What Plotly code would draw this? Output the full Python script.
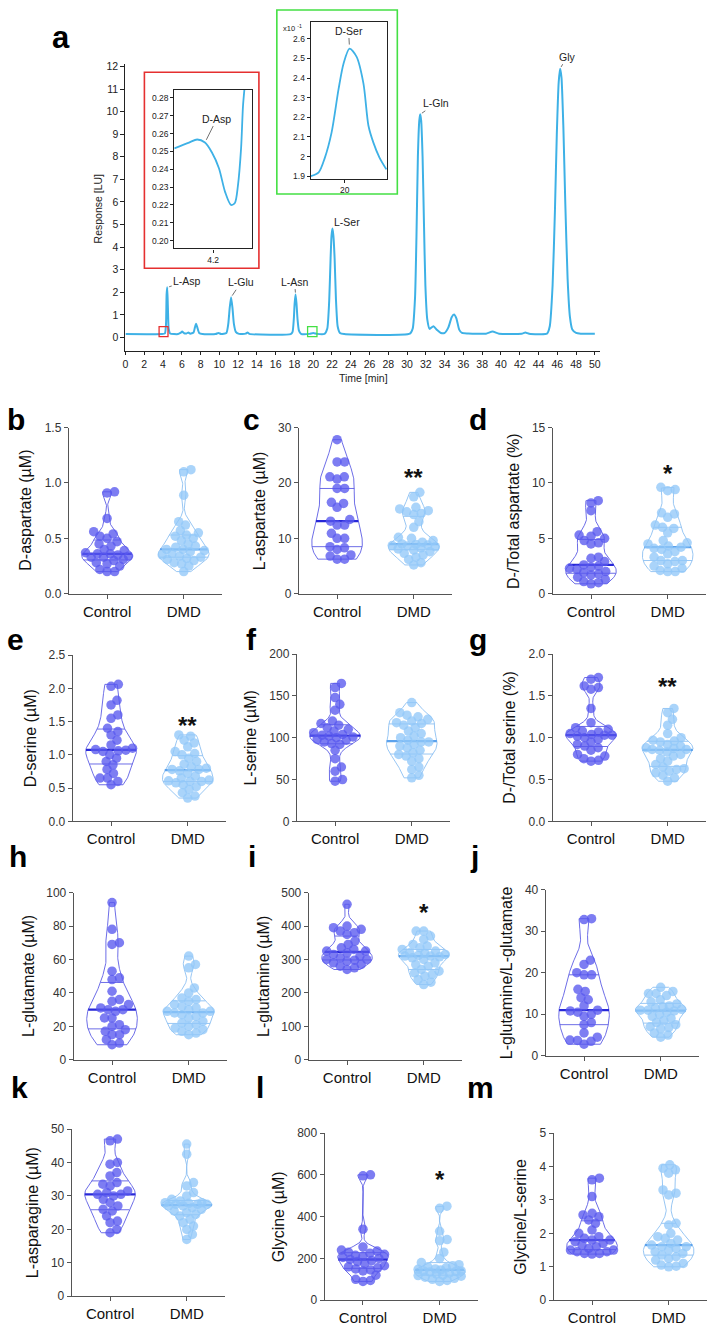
import numpy as np
import plotly.graph_objects as go

W, H = 709, 1330

# ---------------- chromatogram data ----------------
chrom_time = [0, 3.9, 4.2, 4.32, 4.38, 4.45, 4.52, 4.6, 4.75, 5.6, 5.85, 6.04, 6.25, 6.5, 6.7, 6.9,
              7.25, 7.4, 7.52, 7.65, 7.85, 8.2, 9.6, 9.9, 10.2, 10.75, 10.95, 11.1, 11.25, 11.4, 11.55,
              11.75, 12.1, 12.8, 13.0, 13.2, 17.6, 17.8, 17.93, 18.02, 18.12, 18.22, 18.33, 18.48, 18.7,
              19.6, 20.0, 20.4, 21.2, 21.5, 21.7, 21.85, 21.95, 22.05, 22.15, 22.28, 22.42, 22.6, 22.85,
              23.3, 30.3, 30.6, 30.85, 31.0, 31.15, 31.3, 31.4, 31.5, 31.65, 31.8, 31.95, 32.15, 32.4,
              32.8, 33.2, 33.6, 34.0, 34.4, 34.75, 35.0, 35.25, 35.55, 35.85, 36.5, 38.4, 39.1, 39.8,
              42.2, 42.6, 43.0, 44.9, 45.2, 45.5, 45.75, 45.95, 46.15, 46.3, 46.45, 46.65, 46.85, 47.1,
              47.35, 47.6, 48.0, 48.5, 50.0]
chrom_resp = [0.15, 0.15, 0.18, 0.6, 1.9, 2.22, 1.3, 0.4, 0.18, 0.15, 0.2, 0.26, 0.19, 0.18, 0.22, 0.17,
              0.22, 0.45, 0.61, 0.45, 0.2, 0.15, 0.15, 0.2, 0.15, 0.2, 0.6, 1.3, 1.78, 1.3, 0.6,
              0.25, 0.16, 0.17, 0.22, 0.16, 0.15, 0.25, 0.8, 1.5, 1.9, 1.5, 0.8, 0.3, 0.16,
              0.16, 0.2, 0.16, 0.16, 0.4, 1.6, 3.5, 4.5, 4.82, 4.5, 3.5, 1.7, 0.5, 0.2,
              0.15, 0.17, 0.4, 1.8, 4.5, 8.0, 9.6, 9.88, 9.6, 8.0, 5.0, 2.3, 0.8, 0.38,
              0.5, 0.33, 0.2, 0.2, 0.45, 0.9, 1.02, 0.85, 0.35, 0.2, 0.18, 0.17, 0.26, 0.17,
              0.17, 0.22, 0.17, 0.17, 0.5, 2.3, 5.6, 9.0, 11.3, 11.9, 11.5, 9.3, 6.0, 2.6,
              0.9, 0.35, 0.2, 0.17, 0.17]

peak_names = ["L-Asp", "L-Glu", "L-Asn", "L-Ser", "L-Gln", "Gly"]
peak_times = [4.45, 11.25, 18.12, 22.05, 31.4, 46.3]
peak_heights = [2.22, 1.78, 1.9, 4.82, 9.88, 11.9]

# D-Asp inset
dasp_time = [4.100, 4.138, 4.159, 4.179, 4.197, 4.215, 4.231, 4.246, 4.256, 4.264, 4.272, 4.277, 4.282]
dasp_resp = [0.2517, 0.2550, 0.2567, 0.2550, 0.2494, 0.2406, 0.2272, 0.2200, 0.2211, 0.2310, 0.2517, 0.2756, 0.2880]
# D-Ser inset (x10^-1)
dser_time = [19.600, 19.694, 19.764, 19.845, 19.927, 19.986, 20.056, 20.138, 20.219, 20.278, 20.336, 20.406, 20.488]
dser_resp = [1.900, 1.920, 1.991, 2.122, 2.343, 2.474, 2.550, 2.509, 2.373, 2.157, 2.071, 1.996, 1.935]

# zoom windows marked on main chromatogram
red_window_t = [3.58, 4.53]
green_window_t = [19.4, 20.4]
window_resp = [0.04, 0.48]

# ---------------- violin data ----------------
groups = ["Control", "DMD"]

d_aspartate_control = [0.92, 0.91, 0.68, 0.56, 0.54, 0.52, 0.50, 0.47, 0.45, 0.43, 0.40, 0.39, 0.37, 0.36,
                       0.36, 0.35, 0.34, 0.33, 0.33, 0.31, 0.30, 0.28, 0.27, 0.25, 0.22, 0.20, 0.20]
d_aspartate_dmd = [1.12, 1.10, 0.89, 0.65, 0.62, 0.57, 0.55, 0.53, 0.52, 0.50, 0.48, 0.45, 0.43, 0.42, 0.40,
                   0.40, 0.39, 0.38, 0.36, 0.35, 0.34, 0.33, 0.32, 0.31, 0.30, 0.28, 0.27, 0.25, 0.20]

l_aspartate_control = [27.8, 23.8, 23.8, 21.1, 21.1, 20.7, 19.0, 19.0, 16.5, 16.3, 15.6, 13.4, 13.1, 12.4,
                       12.4, 10.9, 10.0, 10.0, 8.5, 8.3, 8.0, 7.0, 6.8, 6.25, 6.25]
l_aspartate_dmd = [18.3, 17.5, 15.6, 15.3, 15.0, 14.8, 14.5, 14.3, 13.0, 12.0, 10.2, 10.0, 9.6, 9.3, 9.0,
                   8.9, 8.8, 8.7, 8.6, 8.5, 8.3, 8.1, 7.9, 7.6, 7.3, 7.0, 6.6, 6.2, 5.6, 5.2]

d_total_asp_control = [8.4, 8.2, 7.5, 5.6, 5.3, 5.2, 5.0, 4.8, 4.6, 4.5, 3.3, 3.2, 2.9, 2.6, 2.5, 2.4, 2.3,
                       2.2, 2.0, 1.9, 1.8, 1.7, 1.5, 1.3, 1.1, 1.0, 0.9]
d_total_asp_dmd = [9.6, 9.4, 9.3, 7.3, 7.2, 6.9, 6.2, 6.0, 5.9, 5.5, 4.8, 4.6, 4.5, 4.3, 4.2, 4.1, 4.0, 3.8,
                   3.6, 3.3, 3.0, 3.0, 2.9, 2.7, 2.5, 2.3, 2.1, 2.0, 2.0]

d_serine_control = [2.06, 2.03, 1.82, 1.75, 1.60, 1.55, 1.40, 1.35, 1.30, 1.22, 1.15, 1.10, 1.08, 1.07, 1.06,
                    1.05, 1.00, 0.95, 0.90, 0.85, 0.78, 0.72, 0.65, 0.65, 0.60, 0.55]
d_serine_dmd = [1.30, 1.28, 1.22, 1.18, 1.12, 1.05, 1.02, 1.00, 0.95, 0.90, 0.86, 0.82, 0.80, 0.78, 0.78,
                0.76, 0.72, 0.68, 0.65, 0.62, 0.61, 0.60, 0.60, 0.58, 0.55, 0.52, 0.48, 0.43, 0.38, 0.35]

l_serine_control = [165, 160, 148, 140, 133, 120, 117, 115, 112, 110, 108, 106, 104, 103, 102, 101, 100, 98,
                    97, 95, 93, 92, 85, 75, 65, 60, 50, 48]
l_serine_dmd = [142, 130, 127, 125, 122, 120, 118, 117, 115, 112, 108, 105, 102, 100, 97, 95, 95, 92, 90, 88,
                85, 82, 80, 78, 75, 72, 65, 62, 55, 52]

d_total_ser_control = [1.72, 1.70, 1.62, 1.60, 1.58, 1.35, 1.18, 1.12, 1.10, 1.08, 1.07, 1.05, 1.04, 1.03,
                       1.03, 1.02, 1.00, 0.98, 0.95, 0.92, 0.90, 0.88, 0.85, 0.80, 0.78, 0.75, 0.73, 0.72]
d_total_ser_dmd = [1.35, 1.30, 1.22, 1.15, 1.05, 1.00, 0.97, 0.96, 0.95, 0.92, 0.90, 0.88, 0.87, 0.86, 0.86,
                   0.85, 0.83, 0.80, 0.78, 0.75, 0.72, 0.68, 0.65, 0.63, 0.62, 0.60, 0.58, 0.55, 0.52, 0.48]

l_glutamate_control = [94, 78, 70, 69, 53, 49, 48, 41, 36, 35, 33, 31, 30, 30, 29, 25, 25, 21, 20, 18, 17,
                       15, 15, 12, 10, 9]
l_glutamate_dmd = [62, 57, 55, 43, 40, 37, 36, 35, 33, 32, 31, 30, 29, 29, 28, 28, 27, 26, 25, 23, 22, 21,
                   20, 19, 18, 17, 16, 15]

l_glutamine_control = [465, 400, 395, 390, 385, 380, 375, 355, 345, 335, 330, 325, 325, 320, 315, 310, 305,
                       300, 300, 298, 295, 290, 285, 280, 275, 270]
l_glutamine_dmd = [385, 385, 370, 360, 345, 340, 335, 330, 325, 320, 318, 315, 312, 310, 310, 308, 305, 300,
                   290, 285, 280, 270, 265, 260, 255, 250, 240, 232, 225]

gln_glu_control = [33.0, 32.8, 23.0, 22.0, 20.0, 19.5, 19.5, 16.0, 15.5, 14.0, 13.5, 12.0, 11.0, 10.8, 10.5,
                   10.0, 9.5, 8.0, 7.5, 5.5, 4.5, 3.8, 3.7, 3.5, 2.8]
gln_glu_dmd = [16.5, 15.5, 15.0, 15.0, 14.5, 13.5, 13.0, 12.5, 12.0, 11.8, 11.5, 11.2, 11.0, 11.0, 10.8,
               10.5, 10.0, 9.5, 9.0, 8.5, 8.0, 7.5, 7.0, 6.8, 6.5, 5.5, 5.0, 4.5]

l_asparagine_control = [47.0, 46.5, 40.0, 39.5, 37.0, 36.0, 34.0, 33.5, 33.0, 31.5, 31.0, 30.5, 30.5, 30.0,
                        29.0, 28.0, 27.0, 26.0, 25.5, 24.0, 22.5, 22.0, 20.0, 19.0]
l_asparagine_dmd = [45.5, 42.5, 34.0, 33.0, 31.0, 30.0, 29.0, 28.5, 28.0, 28.0, 27.8, 27.5, 27.5, 27.5, 27.0,
                    27.0, 26.5, 26.0, 25.5, 25.0, 24.5, 24.0, 23.0, 22.0, 21.0, 20.0, 18.5, 17.0]

glycine_control = [600, 595, 340, 255, 240, 235, 230, 225, 220, 215, 210, 205, 200, 195, 190, 185, 175, 165,
                   160, 155, 150, 145, 140, 120, 100, 95, 90]
glycine_dmd = [450, 440, 330, 290, 285, 230, 200, 180, 170, 165, 160, 155, 150, 148, 145, 140, 140, 138, 135,
               130, 125, 120, 118, 115, 110, 105, 100, 95, 90]

gly_ser_control = [3.65, 3.60, 3.10, 2.60, 2.55, 2.50, 2.40, 2.30, 2.10, 2.00, 1.90, 1.85, 1.80, 1.80, 1.75,
                   1.70, 1.65, 1.60, 1.55, 1.50, 1.50, 1.45, 1.45, 1.40, 1.40, 1.38]
gly_ser_dmd = [4.05, 3.95, 3.90, 3.80, 3.30, 3.20, 3.15, 2.30, 2.25, 2.00, 1.90, 1.85, 1.80, 1.70, 1.65, 1.60,
               1.60, 1.55, 1.50, 1.45, 1.40, 1.35, 1.30, 1.25, 1.20, 1.10, 1.05, 1.02, 1.00]

# (letter, y title, control, dmd, y max, tick step, tick format, star text, star y)
panels = [
    ("b", "D-aspartate (\u00b5M)", d_aspartate_control, d_aspartate_dmd, 1.5, 0.5, ".1f", "", 0),
    ("c", "L-aspartate (\u00b5M)", l_aspartate_control, l_aspartate_dmd, 30, 10, "d", "**", 22.0),
    ("d", "D-/Total aspartate (%)", d_total_asp_control, d_total_asp_dmd, 15, 5, "d", "*", 11.4),
    ("e", "D-serine (\u00b5M)", d_serine_control, d_serine_dmd, 2.5, 0.5, ".1f", "**", 1.53),
    ("f", "L-serine (\u00b5M)", l_serine_control, l_serine_dmd, 200, 50, "d", "", 0),
    ("g", "D-/Total serine (%)", d_total_ser_control, d_total_ser_dmd, 2.0, 0.5, ".1f", "**", 1.68),
    ("h", "L-glutamate (\u00b5M)", l_glutamate_control, l_glutamate_dmd, 100, 20, "d", "", 0),
    ("i", "L-glutamine (\u00b5M)", l_glutamine_control, l_glutamine_dmd, 500, 100, "d", "*", 457),
    ("j", "L-glutamine/L-glutamate", gln_glu_control, gln_glu_dmd, 40, 10, "d", "", 0),
    ("k", "L-asparagine (\u00b5M)", l_asparagine_control, l_asparagine_dmd, 50, 10, "d", "*", 51),
    ("l", "Glycine (\u00b5M)", glycine_control, glycine_dmd, 800, 200, "d", "*", 607),
    ("m", "Glycine/L-serine", gly_ser_control, gly_ser_dmd, 5, 1, "d", "", 0),
]

# ---------------- layout geometry (pixels) ----------------
# panel: (y-axis x px, top px, bottom px)
panel_px = {
    "b": (66, 425, 593), "c": (297, 425, 593), "d": (552, 425, 593),
    "e": (70, 655, 823), "f": (295, 654, 823), "g": (552, 654, 823),
    "h": (71, 895, 1064), "i": (307, 895, 1064), "j": (545, 892, 1060),
    "k": (69, 1134, 1303), "l": (323, 1138, 1307), "m": (553, 1138, 1307),
}
col_letter_x = {"b": 13, "e": 13, "h": 15, "k": 17,
                "c": 250, "f": 250, "i": 250, "l": 258,
                "d": 477, "g": 477, "j": 474, "m": 480}
row_letter_y = {"b": 417, "c": 417, "d": 417, "e": 639, "f": 639, "g": 639,
                "h": 859, "i": 859, "j": 859, "k": 1092, "l": 1092, "m": 1092}
PANEL_W = 154
XR = [-0.5, 1.5]
VW = 0.33  # violin half width in category units
DOT = 9.5

FONT = "Liberation Sans, Arial, sans-serif"
CHROM_COLOR = "#3eb1e6"
COLORS = {
    "Control": dict(dot="rgba(88,88,238,0.78)", line="rgb(92,92,228)", med="rgb(40,40,215)"),
    "DMD": dict(dot="rgba(146,200,248,0.78)", line="rgb(140,192,242)", med="rgb(92,162,236)"),
}


def px_x(p):
    return p / W


def px_y(p):
    return 1 - p / H


def kde_halfwidth(vals, grid):
    v = np.asarray(vals, float)
    n = len(v)
    sd = v.std(ddof=1)
    iqr = np.subtract(*np.percentile(v, [75, 25]))
    bw = 0.9 * min(sd, iqr / 1.34 if iqr > 0 else sd) * n ** -0.2 * 0.85
    dens = np.exp(-0.5 * ((grid[:, None] - v[None, :]) / bw) ** 2).sum(axis=1)
    return dens / dens.max() * VW


def swarm(vals, px_per_unit, diam, maxw):
    ys = np.asarray(vals, float) * px_per_unit
    order = np.argsort(ys)
    px_l, py_l = [], []
    offs = np.zeros(len(ys))
    for i in order:
        y = ys[i]
        cands = [0.0]
        for a, b in zip(px_l, py_l):
            dy = abs(b - y)
            if dy < diam:
                dx = np.sqrt(diam ** 2 - dy ** 2)
                cands += [a + dx, a - dx]
        cands = [c for c in cands if abs(c) <= maxw]
        cands.sort(key=abs)
        chosen = None
        for c in cands:
            if all((c - a) ** 2 + (y - b) ** 2 >= diam ** 2 - 1e-6 for a, b in zip(px_l, py_l)):
                chosen = c
                break
        if chosen is None:  # no free slot inside the violin: take the least crowded spot
            grid = np.linspace(-maxw, maxw, 41)
            best = -1
            for c in grid:
                dmin = min(np.hypot(c - a, y - b) for a, b in zip(px_l, py_l))
                if dmin > best:
                    best, chosen = dmin, c
        offs[i] = chosen
        px_l.append(chosen)
        py_l.append(y)
    return offs


def tick_label_width(ymax, dtick, tfmt):
    labels = [format(t, tfmt) if tfmt != "d" else str(int(round(t)))
              for t in np.arange(0, ymax + dtick / 2, dtick)]
    return max(sum(6.7 if ch.isdigit() else 3.4 for ch in s) for s in labels)


def paper_text(xp, yp, text, size, angle=0, color="#222"):
    return dict(x=px_x(xp), y=px_y(yp), xref="paper", yref="paper", text=text, textangle=angle,
                showarrow=False, xanchor="center", yanchor="middle",
                font=dict(family=FONT, size=size, color=color))


fig = go.Figure()
annotations = []
shapes = []

# ---------------- main chromatogram ----------------
fig.add_trace(go.Scatter(x=chrom_time, y=chrom_resp, mode="lines", xaxis="x", yaxis="y",
                         line=dict(color=CHROM_COLOR, width=2, shape="spline", smoothing=0.5),
                         showlegend=False, hoverinfo="skip"))
fig.add_trace(go.Scatter(x=dasp_time, y=dasp_resp, mode="lines", xaxis="x2", yaxis="y2",
                         line=dict(color=CHROM_COLOR, width=1.8, shape="spline", smoothing=0.8),
                         showlegend=False, hoverinfo="skip"))
fig.add_trace(go.Scatter(x=dser_time, y=dser_resp, mode="lines", xaxis="x3", yaxis="y3",
                         line=dict(color=CHROM_COLOR, width=1.8, shape="spline", smoothing=0.8),
                         showlegend=False, hoverinfo="skip"))

label_offsets = [(20, -6), (10, -15), (-1, -13), (15, -7), (16, -11), (7, -12)]
for name, t, h, (ax, ay) in zip(peak_names, peak_times, peak_heights, label_offsets):
    annotations.append(dict(x=t, y=h, xref="x", yref="y", text=name, showarrow=True,
                            arrowhead=0, arrowwidth=0.7, arrowcolor="#333", ax=ax, ay=ay,
                            standoff=2, font=dict(family=FONT, size=10.5, color="#222")))
annotations.append(dict(x=dasp_time[3], y=dasp_resp[3], xref="x2", yref="y2", text="D-Asp",
                        showarrow=True, arrowhead=0, arrowwidth=0.7, arrowcolor="#333", ax=12, ay=-24,
                        standoff=3, font=dict(family=FONT, size=10.5, color="#222")))
annotations.append(dict(x=dser_time[6], y=dser_resp[6], xref="x3", yref="y3", text="D-Ser",
                        showarrow=True, arrowhead=0, arrowwidth=0.7, arrowcolor="#333", ax=-1, ay=-18,
                        standoff=4, font=dict(family=FONT, size=10.5, color="#222")))
annotations.append(paper_text(291, 21, "x10 <sup>-1</sup>", 7.5))
annotations.append(paper_text(95, 204, "Response [LU]", 10.5, angle=-90))
annotations.append(paper_text(362, 375, "Time [min]", 10.5))
annotations.append(paper_text(58.5, 31, "<b>a</b>", 31, color="#000"))

# inset frames and zoom windows
shapes.append(dict(type="rect", xref="paper", yref="paper", x0=px_x(142), x1=px_x(257), y0=px_y(264),
                   y1=px_y(66), line=dict(color="#e53030", width=1.6)))
shapes.append(dict(type="rect", xref="paper", yref="paper", x0=px_x(275), x1=px_x(396), y0=px_y(189),
                   y1=px_y(3), line=dict(color="#44e044", width=1.6)))
shapes.append(dict(type="rect", xref="x", yref="y", x0=red_window_t[0], x1=red_window_t[1],
                   y0=window_resp[0], y1=window_resp[1], line=dict(color="#e53030", width=1.3)))
shapes.append(dict(type="rect", xref="x", yref="y", x0=green_window_t[0], x1=green_window_t[1],
                   y0=window_resp[0], y1=window_resp[1], line=dict(color="#44e044", width=1.3)))

layout_axes = {}
chrom_tick = dict(family=FONT, size=10.5, color="#222")
layout_axes["xaxis"] = dict(domain=[px_x(123), px_x(600)], range=[0, 50.6], anchor="y",
                            tickmode="linear", tick0=0, dtick=2, ticks="outside", ticklen=3,
                            tickcolor="#222", showline=True, linecolor="#222", linewidth=1.3,
                            showgrid=False, zeroline=False, tickfont=chrom_tick)
layout_axes["yaxis"] = dict(domain=[px_y(348), px_y(58)], range=[-0.613, 12.09], anchor="x",
                            tickmode="linear", tick0=0, dtick=1, ticks="outside", ticklen=4,
                            tickcolor="#222", showline=True, linecolor="#222", linewidth=1.3,
                            showgrid=False, zeroline=False, tickfont=chrom_tick)
inset_tick = dict(family=FONT, size=8.5, color="#222")
layout_axes["xaxis2"] = dict(domain=[px_x(172), px_x(250)], range=[4.10, 4.30], anchor="y2",
                             tickvals=[4.2], ticks="outside", ticklen=3, tickcolor="#222",
                             showline=True, mirror=True, linecolor="#222", linewidth=1.2,
                             showgrid=False, zeroline=False, tickfont=inset_tick)
layout_axes["yaxis2"] = dict(domain=[px_y(244), px_y(84)], range=[0.1956, 0.2844], anchor="x2",
                             tickmode="linear", tick0=0.2, dtick=0.01, tickformat=".2f",
                             ticks="outside", ticklen=3, tickcolor="#222", showline=True, mirror=True,
                             linecolor="#222", linewidth=1.2, showgrid=False, zeroline=False,
                             tickfont=inset_tick)
layout_axes["xaxis3"] = dict(domain=[px_x(309), px_x(386)], range=[19.6, 20.5], anchor="y3",
                             tickvals=[20], ticks="outside", ticklen=3, tickcolor="#222",
                             showline=True, mirror=True, linecolor="#222", linewidth=1.2,
                             showgrid=False, zeroline=False, tickfont=inset_tick)
layout_axes["yaxis3"] = dict(domain=[px_y(174), px_y(15)], range=[1.885, 2.686], anchor="x3",
                             tickmode="linear", tick0=1.9, dtick=0.1, ticks="outside", ticklen=3,
                             tickcolor="#222", showline=True, mirror=True, linecolor="#222",
                             linewidth=1.2, showgrid=False, zeroline=False, tickfont=inset_tick)

# ---------------- violin panels ----------------
for k, (letter, ytitle, ctrl, dmd, ymax, dtick, tfmt, star, star_y) in enumerate(panels):
    n = k + 4
    xa, ya = f"x{n}", f"y{n}"
    x0, top, bot = panel_px[letter]
    px_per_unit_y = (bot - top) / ymax
    px_per_cat = PANEL_W / (XR[1] - XR[0])
    for gi, (gname, vals) in enumerate(zip(groups, [ctrl, dmd])):
        col = COLORS[gname]
        v = np.asarray(vals, float)
        grid = np.linspace(v.min(), v.max(), 120)
        hw = kde_halfwidth(v, grid)
        vx = np.concatenate([gi + hw, (gi - hw)[::-1], [gi + hw[0]]])
        vy = np.concatenate([grid, grid[::-1], [grid[0]]])
        fig.add_trace(go.Scatter(x=vx, y=vy, mode="lines", xaxis=xa, yaxis=ya,
                                 line=dict(color=col["line"], width=0.9), showlegend=False,
                                 hoverinfo="skip"))
        q1, med, q3 = np.percentile(v, [25, 50, 75])
        for q, wdt, c in [(q1, 0.9, col["line"]), (q3, 0.9, col["line"]), (med, 2.3, col["med"])]:
            w = float(np.interp(q, grid, hw))
            fig.add_trace(go.Scatter(x=[gi - w, gi + w], y=[q, q], mode="lines", xaxis=xa, yaxis=ya,
                                     line=dict(color=c, width=wdt), showlegend=False,
                                     hoverinfo="skip"))
        offs = swarm(v, px_per_unit_y, DOT * 0.8, VW * px_per_cat * 0.85) / px_per_cat
        fig.add_trace(go.Scatter(x=gi + offs, y=v, mode="markers", xaxis=xa, yaxis=ya,
                                 marker=dict(size=DOT, color=col["dot"], line=dict(width=0)),
                                 cliponaxis=False, showlegend=False, hoverinfo="skip"))
    layout_axes[f"xaxis{n}"] = dict(domain=[px_x(x0), px_x(x0 + PANEL_W)], range=XR, anchor=ya,
                                    tickvals=[0, 1], ticktext=groups, ticks="outside", ticklen=4,
                                    tickcolor="#555", showline=True, linecolor="#555", linewidth=1,
                                    showgrid=False, zeroline=False,
                                    tickfont=dict(family=FONT, size=15, color="#111"))
    layout_axes[f"yaxis{n}"] = dict(domain=[px_y(bot), px_y(top)], range=[0, ymax], anchor=xa,
                                    tickmode="linear", tick0=0, dtick=dtick, tickformat=tfmt,
                                    ticks="outside", ticklen=4, tickcolor="#555", showline=True,
                                    linecolor="#555", linewidth=1, showgrid=False, zeroline=False,
                                    tickfont=dict(family=FONT, size=12, color="#333"))
    annotations.append(paper_text(col_letter_x[letter], row_letter_y[letter], f"<b>{letter}</b>", 30,
                                  color="#000"))
    title_dist = 26 + tick_label_width(ymax, dtick, tfmt)
    annotations.append(paper_text(x0 - title_dist, (top + bot) / 2, ytitle, 16, angle=-90, color="#111"))
    if star:
        annotations.append(dict(x=1, y=star_y, xref=xa, yref=ya, text=f"<b>{star}</b>", showarrow=False,
                                xanchor="center", yanchor="middle", yshift=-6,
                                font=dict(family=FONT, size=24, color="#111")))

fig.update_layout(width=W, height=H, margin=dict(l=0, r=0, t=0, b=0), paper_bgcolor="white",
                  plot_bgcolor="white", showlegend=False, annotations=annotations, shapes=shapes,
                  **layout_axes)

fig.write_html("out.html", config={"displayModeBar": False},
               post_script="document.body.style.margin='0px';document.body.style.overflow='hidden';")
